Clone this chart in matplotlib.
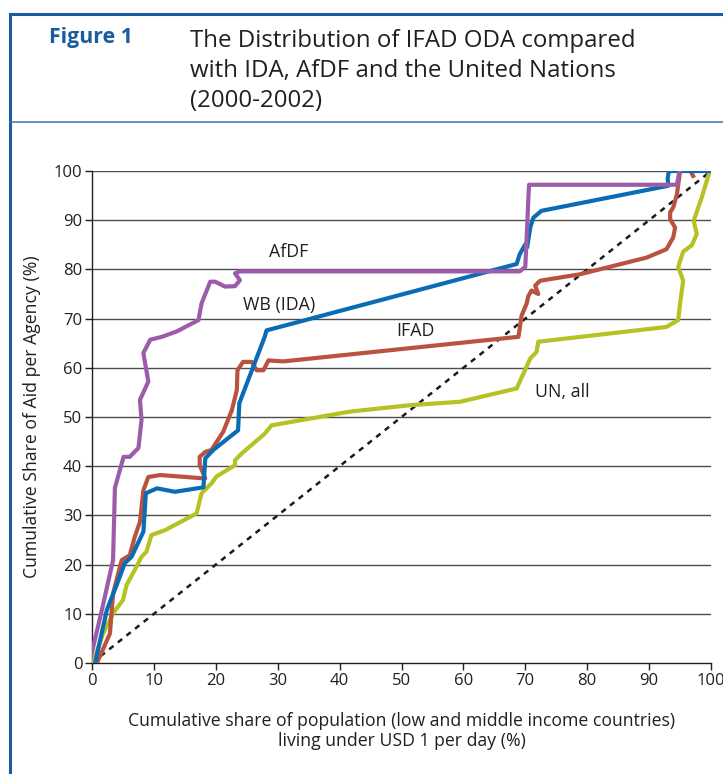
import matplotlib
matplotlib.use("Agg")
import matplotlib.pyplot as plt
from matplotlib.lines import Line2D

plt.rcParams['font.family'] = ['Open Sans', 'DejaVu Sans']

# ---- data ----
afdf_x = [-0.3, 1.6, 3.4, 3.7, 5.1, 6.1, 7.5, 8.0, 7.75, 9.1, 8.3, 9.4, 11.3, 13.7, 17.2, 17.7,
          19.1, 19.9, 21.5, 23.1, 23.9, 23.1, 23.9, 69.1, 70.0, 70.6, 94.5, 95.0, 99.8]
afdf_y = [0.6, 10.8, 20.9, 35.6, 41.9, 41.9, 43.7, 49.4, 53.5, 57.2, 63.0, 65.7, 66.3, 67.4, 69.7, 73.1,
          77.5, 77.5, 76.5, 76.6, 77.8, 79.2, 79.6, 79.6, 80.5, 97.2, 97.2, 100.6, 100.5]

wb_x = [0.5, 2.4, 4.0, 5.3, 6.4, 8.3, 8.7, 10.5, 13.4, 18.0, 18.3, 19.6, 23.6, 23.8, 27.9, 28.2,
        68.6, 69.1, 70.0, 70.3, 70.8, 71.3, 72.6, 93.1, 93.0, 93.2, 99.8]
wb_y = [0.0, 10.8, 15.9, 20.3, 21.6, 26.7, 34.5, 35.5, 34.8, 35.7, 41.6, 43.3, 47.3, 52.8, 66.3, 67.6,
        81.1, 83.1, 85.1, 84.5, 88.5, 90.5, 91.9, 97.0, 98.5, 100.0, 100.0]

ifad_x = [0.8, 2.9, 3.4, 4.8, 6.1, 6.9, 7.75, 8.3, 9.1, 11.0, 14.2, 18.3, 17.4, 17.4, 18.3, 19.3,
          21.2, 22.6, 23.4, 23.5, 24.4, 25.8, 26.6, 27.7, 28.5, 30.9, 68.9, 69.4, 70.2, 70.5, 71.0,
          72.1, 71.6, 72.4, 78.8, 84.2, 89.6, 92.8, 93.9, 94.2, 93.4, 93.4, 93.9, 94.5, 95.0, 95.6,
          96.3, 97.1]
ifad_y = [0.0, 6.0, 14.1, 20.9, 21.9, 25.6, 28.7, 35.1, 37.8, 38.2, 37.9, 37.5, 40.2, 41.9, 42.9, 43.3,
          47.0, 51.4, 55.5, 59.5, 61.2, 61.2, 59.5, 59.5, 61.5, 61.3, 66.3, 70.6, 73.0, 74.6, 75.7,
          75.0, 76.7, 77.7, 79.0, 80.7, 82.4, 84.1, 86.5, 88.5, 90.2, 91.6, 92.6, 95.3, 100.0, 101.7,
          101.0, 99.0]

un_x = [0.2, 1.8, 3.4, 5.0, 5.6, 7.2, 8.0, 8.8, 9.6, 11.8, 16.9, 17.7, 19.3, 20.1, 23.1, 23.1, 24.2,
        27.9, 29.0, 41.7, 51.4, 59.5, 68.6, 69.7, 70.8, 71.8, 72.1, 92.8, 94.7, 95.0, 95.5, 94.7,
        95.5, 96.9, 97.7, 97.2, 98.5, 99.8]
un_y = [0.3, 6.0, 10.1, 12.8, 15.9, 19.6, 21.6, 22.6, 26.0, 27.0, 30.4, 34.5, 36.5, 37.9, 40.2, 41.2, 42.6,
        46.6, 48.3, 51.1, 52.4, 53.1, 55.8, 58.8, 61.9, 63.2, 65.3, 68.3, 69.7, 73.0, 77.7, 80.5,
        83.6, 84.9, 87.2, 89.9, 94.6, 100.0]

equal_x = [0, 100]
equal_y = [0, 100]

ticks = [0, 10, 20, 30, 40, 50, 60, 70, 80, 90, 100]

labels = ["AfDF", "WB (IDA)", "IFAD", "UN, all"]
label_pos = [(31.8, 83.5), (30.2, 72.8), (52.2, 67.5), (75.9, 55.0)]

# ---- figure ----
W, H = 723, 774
fig = plt.figure(figsize=(W / 100, H / 100), dpi=100)

frame_col = '#1b5c9f'
fig.add_artist(Line2D([9.5 / W, 9.5 / W], [0, 1 - 14 / H], color=frame_col, lw=2.2,
                      transform=fig.transFigure, solid_capstyle='projecting'))
fig.add_artist(Line2D([9.5 / W, 1], [1 - 14 / H, 1 - 14 / H], color=frame_col, lw=2.2,
                      transform=fig.transFigure, solid_capstyle='projecting'))
fig.add_artist(Line2D([9.5 / W, 1], [1 - 122 / H, 1 - 122 / H], color='#3f74ad', lw=1.1,
                      transform=fig.transFigure))

fig.text(49 / W, 1 - 37.5 / H, "Figure 1", color=frame_col, fontsize=15.3, fontweight='bold',
         va='center', ha='left')
fig.text(190 / W, 1 - 71 / H, "The Distribution of IFAD ODA compared\nwith IDA, AfDF and the United Nations\n(2000-2002)",
         color='#231f20', fontsize=17.3, va='center', ha='left', linespacing=1.36)

ax = fig.add_axes([92 / W, 1 - 663 / H, (711 - 92) / W, (663 - 171) / H])
ax.set_xlim(0, 100)
ax.set_ylim(0, 100)
ax.set_xticks(ticks)
ax.set_yticks(ticks)
for t in ticks[1:]:
    ax.axhline(t, color='#4d4d4d', lw=1.0, zorder=1)

ax.plot(equal_x, equal_y, color='#1a1a1a', lw=1.8, ls=(0, (2.2, 2.2)), zorder=2)
ax.plot(un_x, un_y, color='#b5c224', lw=3.0, zorder=3, solid_joinstyle='round')
ax.plot(ifad_x, ifad_y, color='#b9533f', lw=3.0, zorder=4, solid_joinstyle='round')
ax.plot(wb_x, wb_y, color='#0a6cb5', lw=3.0, zorder=5, solid_joinstyle='round')
ax.plot(afdf_x, afdf_y, color='#9d5ca9', lw=3.0, zorder=6, solid_joinstyle='round')

for lab, (lx, ly) in zip(labels, label_pos):
    ax.text(lx, ly, lab, fontsize=12.8, color='#231f20', ha='center', va='center', zorder=7)

for s in ['top', 'right']:
    ax.spines[s].set_visible(False)
for s in ['left', 'bottom']:
    ax.spines[s].set_color('#231f20')
    ax.spines[s].set_linewidth(1.0)
ax.tick_params(axis='both', direction='out', length=5, width=1, color='#231f20',
               labelsize=12, labelcolor='#231f20', pad=2)
ax.set_ylabel("Cumulative Share of Aid per Agency (%)", fontsize=12.7, color='#231f20', labelpad=9)
ax.set_xlabel("Cumulative share of population (low and middle income countries)\nliving under USD 1 per day (%)",
              fontsize=12.7, color='#231f20', labelpad=17, linespacing=1.15)

fig.savefig("out.png", dpi=100)
